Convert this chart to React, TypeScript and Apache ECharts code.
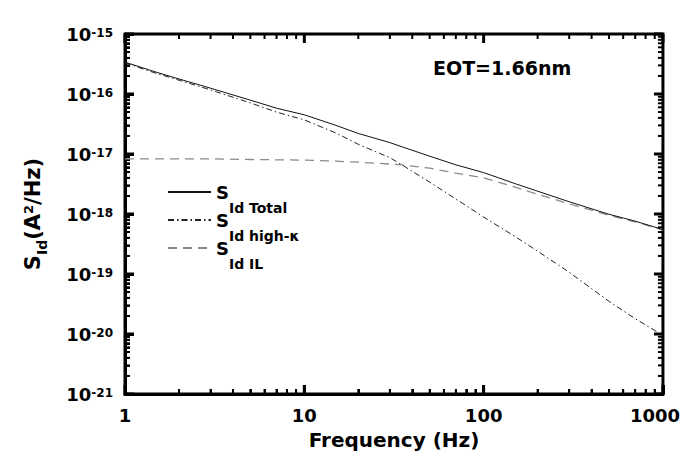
import React, { useEffect, useRef } from "react";
import * as echarts from "echarts";

const freq = [1, 1.5, 2, 3, 5, 7, 10, 15, 20, 30, 35, 50, 70, 100, 150, 200, 300, 500, 700, 1000];
const sTotal = [3.4e-16, 2.3e-16, 1.78e-16, 1.25e-16, 7.9e-17, 5.8e-17, 4.5e-17, 3.0e-17, 2.2e-17, 1.55e-17, 1.32e-17, 9.2e-18, 6.6e-18, 4.9e-18, 3.2e-18, 2.4e-18, 1.6e-18, 9.9e-19, 7.6e-19, 5.5e-19];
const sHighK = [3.3e-16, 2.2e-16, 1.7e-16, 1.17e-16, 7.1e-17, 5.0e-17, 3.7e-17, 2.24e-17, 1.45e-17, 8.7e-18, 6.6e-18, 3.4e-18, 1.78e-18, 8.9e-19, 4.2e-19, 2.4e-19, 1.07e-19, 3.5e-20, 1.8e-20, 9.5e-21];
const sIL = [8.3e-18, 8.3e-18, 8.3e-18, 8.3e-18, 8.1e-18, 8.0e-18, 7.9e-18, 7.6e-18, 7.3e-18, 6.8e-18, 6.6e-18, 5.8e-18, 4.8e-18, 4.0e-18, 2.8e-18, 2.14e-18, 1.48e-18, 9.5e-19, 7.4e-19, 5.4e-19];

const seriesNames = ["SId Total", "SId high-κ", "SId IL"];
const legendSubs = ["Id Total", "Id high-κ", "Id IL"];
const annotation = "EOT=1.66nm";
const xTitle = "Frequency (Hz)";

const X_MIN = 1;
const X_MAX = 1000;
const Y_MIN = 1e-21;
const Y_MAX = 1e-15;
// ECharts rounds tiny log values to 0, so the y values are plotted in units of 1e-21 A²/Hz
const Y_UNIT_EXP = -21;
const Y_UNIT = 1e-21;
const tickMult = [1, 2, 3, 4, 5, 6, 7, 8, 9];
const xDecades = [1, 10, 100];
const yDecades = [1e-21, 1e-20, 1e-19, 1e-18, 1e-17, 1e-16];

const FONT = "DejaVu Sans";

export default function App() {
  const ref = useRef<HTMLDivElement>(null);
  useEffect(() => {
    if (!ref.current) return;
    const chart = echarts.init(ref.current, undefined, { renderer: "svg" });
    const toU = (v: number) => v / Y_UNIT;
    const yMinU = Math.round(toU(Y_MIN));
    const yMaxU = Math.round(toU(Y_MAX));

    const xTicks: number[] = [];
    xDecades.forEach((d) => tickMult.forEach((m) => xTicks.push(d * m)));
    xTicks.push(X_MAX);
    const yTicksU: number[] = [];
    yDecades.forEach((d) => tickMult.forEach((m) => yTicksU.push(Math.round(toU(d) * m))));
    yTicksU.push(yMaxU);
    const isMajor = (v: number) => Math.abs(Math.log10(v) - Math.round(Math.log10(v))) < 1e-6;

    const labelStyle = () => ({ color: "#000", fontFamily: FONT, fontWeight: "bold", fontSize: 18 });

    const lineSeries = (name: string, data: number[], style: any, z: number) => ({
      name,
      type: "line",
      data: freq.map((f, i) => [f, toU(data[i])]),
      symbol: "none",
      showSymbol: false,
      lineStyle: style,
      itemStyle: { color: style.color },
      z,
    });

    const tickSeries = (side: string) => ({
      type: "custom",
      coordinateSystem: "cartesian2d",
      data:
        side === "bottom" || side === "top"
          ? xTicks.map((f) => [f, side === "bottom" ? yMinU : yMaxU])
          : yTicksU.map((v) => [side === "left" ? X_MIN : X_MAX, v]),
      renderItem: (_p: any, api: any) => {
        const x = api.value(0);
        const y = api.value(1);
        const p = api.coord([x, y]);
        const major = side === "bottom" || side === "top" ? isMajor(x) : isMajor(y);
        const len = major ? 9 : 5;
        let x2 = p[0];
        let y2 = p[1];
        if (side === "bottom") y2 = p[1] - len;
        if (side === "top") y2 = p[1] + len;
        if (side === "left") x2 = p[0] + len;
        if (side === "right") x2 = p[0] - len;
        return {
          type: "line",
          shape: { x1: p[0], y1: p[1], x2, y2 },
          style: { stroke: "#000", lineWidth: major ? 3 : 2 },
        };
      },
    });

    const legendTops = [192, 220, 248];
    const legends = seriesNames.map((n, i) => ({
      data: [n],
      orient: "vertical",
      left: 167,
      top: legendTops[i] - 23,
      padding: 0,
      itemWidth: 43,
      itemHeight: 12,
      itemGap: 0,
      selectedMode: false,
      itemStyle: { opacity: 0 },
      formatter: () => `{S|S}{sub|${legendSubs[i]}}`,
      textStyle: {
        rich: {
          S: { fontFamily: FONT, fontWeight: "bold", fontSize: 18, lineHeight: 18, color: "#000" },
          sub: { fontFamily: FONT, fontWeight: "bold", fontSize: 14, lineHeight: 14, padding: [32, 0, 0, 0], color: "#000" },
        },
      },
    }));

    chart.setOption({
      animation: false,
      backgroundColor: "#fff",
      grid: {
        left: 125,
        right: 19,
        top: 34,
        bottom: 67,
        show: true,
        borderColor: "#000",
        borderWidth: 3,
        backgroundColor: "transparent",
      },
      legend: legends,
      xAxis: [
        {
          type: "log",
          min: X_MIN,
          max: X_MAX,
          axisLine: { show: true, lineStyle: { color: "#000", width: 3 } },
          axisTick: { show: true, inside: true, length: 9, lineStyle: { color: "#000", width: 3 } },
          minorTick: { show: true, splitNumber: 9, length: 5, lineStyle: { color: "#000", width: 2 } },
          splitLine: { show: false },
          axisLabel: {
            ...labelStyle(),
            margin: 12,
            formatter: (v: number) => (v >= X_MAX ? `{last|${v}}` : String(v)),
            rich: { last: { ...labelStyle(), padding: [0, 16, 0, 0] } },
          },
          name: xTitle,
          nameLocation: "middle",
          nameGap: 36,
          nameTextStyle: { ...labelStyle(), fontSize: 20 },
        },
      ],
      yAxis: [
        {
          type: "log",
          min: yMinU,
          max: yMaxU,
          axisLine: { show: true, lineStyle: { color: "#000", width: 3 } },
          axisTick: { show: true, inside: true, length: 9, lineStyle: { color: "#000", width: 3 } },
          minorTick: { show: true, splitNumber: 9, length: 5, lineStyle: { color: "#000", width: 2 } },
          splitLine: { show: false },
          axisLabel: {
            margin: 12,
            formatter: (v: number) => `{b|10}{s|${Math.round(Math.log10(v)) + Y_UNIT_EXP}}`,
            rich: {
              b: { ...labelStyle(), fontSize: 18, lineHeight: 20, padding: [8, 0, 8, 0] },
              s: { ...labelStyle(), fontSize: 12, lineHeight: 12, padding: [3, 0, 0, 0], verticalAlign: "top" },
            },
          },
          name: "{m|S}{sub|Id}{m|(A}{sup|2}{m|/Hz)}",
          nameLocation: "middle",
          nameRotate: 90,
          nameGap: 82,
          nameTextStyle: {
            rich: {
              m: { ...labelStyle(), fontSize: 21, lineHeight: 21, padding: [6, 0, 6, 0] },
              sub: { ...labelStyle(), fontSize: 14, lineHeight: 14, padding: [18, 0, 0, 0] },
              sup: { ...labelStyle(), fontSize: 13, lineHeight: 13, verticalAlign: "top" },
            },
          },
        },
      ],
      graphic: [
        {
          type: "text",
          left: 433,
          top: 58,
          style: { text: annotation, font: `bold 19px "${FONT}"`, fill: "#000" },
        },
      ],
      series: [
        lineSeries(seriesNames[2], sIL, { color: "#8a8a8a", width: 1.3, type: [9, 6] }, 2),
        lineSeries(seriesNames[1], sHighK, { color: "#222", width: 1, type: [6, 3, 1.5, 3] }, 3),
        lineSeries(seriesNames[0], sTotal, { color: "#111", width: 1, type: "solid" }, 4),
        tickSeries("bottom"),
        tickSeries("top"),
        tickSeries("left"),
        tickSeries("right"),
      ],
    });
    return () => chart.dispose();
  }, []);
  return <div ref={ref} style={{ position: "absolute", left: 0, top: 0, width: 683, height: 461 }} />;
}
